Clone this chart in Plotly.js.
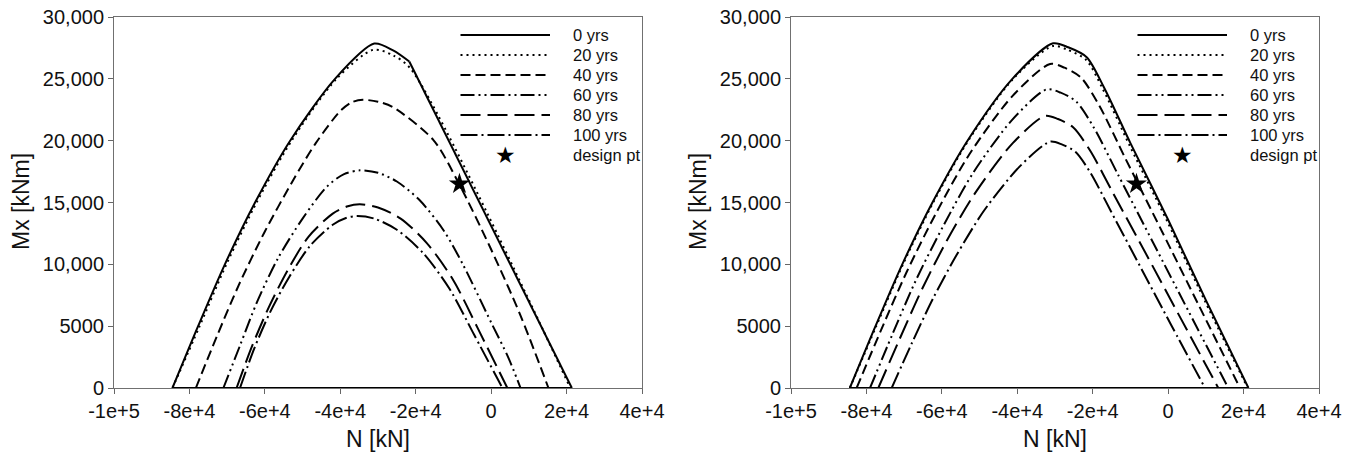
<!DOCTYPE html>
<html>
<head>
<meta charset="utf-8">
<script src="https://cdn.plot.ly/plotly-3.0.1.min.js"></script>
<style>html,body{margin:0;padding:0;background:#fff;}#chart{width:1354px;height:458px;}</style>
</head>
<body>
<div id="chart"></div>
<script>
// ---------- DATA ----------
const seriesNames = ['0 yrs', '20 yrs', '40 yrs', '60 yrs', '80 yrs', '100 yrs'];
const designName = 'design pt';

const xTickVals = [-100000, -80000, -60000, -40000, -20000, 0, 20000, 40000];
const xTickText = ['-1e+5', '-8e+4', '-6e+4', '-4e+4', '-2e+4', '0', '2e+4', '4e+4'];
const yTickVals = [0, 5000, 10000, 15000, 20000, 25000, 30000];
const yTickText = ['0', '5000', '10,000', '15,000', '20,000', '25,000', '30,000'];

// Left panel (closed outlines: arch, then back along M = 0)
const leftN0 = [-84500, -77700, -70600, -62600, -53300, -41400, -31000, -26000, -21700, 21400, -84500];
const leftM0 = [0, 5000, 10000, 15000, 20000, 25000, 27850, 27300, 26400, 0, 0];
const leftN20 = [-84500, -77300, -70200, -62200, -52900, -41000, -31200, -26000, -21300, 21000, -84500];
const leftM20 = [0, 5000, 10000, 15000, 20000, 25000, 27350, 26900, 25800, 0, 0];
const leftN40 = [-78300, -72700, -66800, -60100, -52500, -46500, -40000, -37000, -34000, -30000, -26000, -15300, -8500, -300, 7600, 15200, -78300];
const leftM40 = [0, 4200, 8400, 12600, 16800, 19800, 22400, 23100, 23300, 23150, 22700, 20050, 16500, 11400, 6000, 0, 0];
const leftN60 = [-71000, -66500, -62000, -56500, -50000, -43500, -39000, -34800, -30000, -25000, -19000, -12500, -7500, 0, 4500, 7800, -71000];
const leftM60 = [0, 3500, 7000, 10500, 13700, 16300, 17300, 17600, 17400, 16700, 15200, 12700, 10000, 5300, 2500, 0, 0];
const leftN80 = [-67500, -63500, -59000, -54000, -48500, -42000, -38000, -34800, -30000, -24000, -17000, -10000, -3500, 4300, -67500];
const leftM80 = [0, 3300, 6500, 9500, 12200, 14100, 14700, 14850, 14600, 13700, 11700, 8700, 4800, 0, 0];
const leftN100 = [-66600, -62800, -58500, -53500, -48000, -42000, -38500, -35600, -31000, -25000, -18000, -11000, -4500, 3000, -66600];
const leftM100 = [0, 3200, 6200, 9000, 11500, 13200, 13750, 13900, 13700, 12800, 10900, 8000, 4300, 0, 0];

// Right panel
const rightN0 = [-84400, -77600, -70500, -62500, -53200, -41300, -30500, -26500, -21600, -17000, -10000, 0, 10000, 21300, -84400];
const rightM0 = [0, 5000, 10000, 15000, 20000, 25000, 27870, 27550, 26750, 24300, 19800, 13600, 7100, 0, 0];
const rightN20 = [-84400, -77400, -70300, -62300, -53000, -41100, -30600, -26700, -21800, -17200, -10200, -200, 9800, 21100, -84400];
const rightM20 = [0, 5000, 10000, 15000, 20000, 25000, 27650, 27350, 26550, 24100, 19600, 13450, 7000, 0, 0];
const rightN40 = [-82600, -76100, -69300, -61600, -52700, -41300, -31300, -27500, -23100, -18200, -11400, -1700, 8100, 19050, -82600];
const rightM40 = [0, 4700, 9400, 14100, 18900, 23600, 26200, 25900, 25100, 22800, 18600, 12700, 6700, 0, 0];
const rightN60 = [-79050, -73100, -66900, -59800, -51700, -41300, -32200, -28500, -24350, -19700, -13200, -3900, 5500, 15960, -79050];
const rightM60 = [0, 4350, 8700, 13000, 17400, 21700, 24150, 23880, 23150, 21050, 17200, 11700, 6150, 0, 0];
const rightN80 = [-76850, -71200, -65400, -58700, -51100, -41200, -32650, -29200, -25200, -20700, -14500, -5600, 3300, 13300, -76850];
const rightM80 = [0, 3960, 7900, 11900, 15800, 19800, 22000, 21750, 21080, 19200, 15700, 10700, 5650, 0, 0];
const rightN100 = [-73300, -68000, -62400, -56100, -48800, -39400, -31300, -28200, -24600, -20600, -15100, -7200, 800, 9770, -73300];
const rightM100 = [0, 3600, 7200, 10750, 14350, 17900, 19920, 19700, 19100, 17400, 14250, 9700, 5100, 0, 0];

const designN = [-8400];
const designM = [16500];

// ---------- STYLE ----------
const dashes = ['solid', '2px,4px', '10px,5px', '14px,4px,2px,4px,2px,4px', '20px,7px', '17px,4px,2px,4px'];
const FONT = 'Liberation Sans, Arial, Helvetica, sans-serif';
const W = 1354, H = 458;
// kinkAt: index of a sharp corner after which the outline runs straight (null = smooth throughout)
const panels = [
  {xa: 'x', ya: 'y', left: 114, right: 642, N: [leftN0, leftN20, leftN40, leftN60, leftN80, leftN100], M: [leftM0, leftM20, leftM40, leftM60, leftM80, leftM100], kinkAt: [8, null, null, null, null, null]},
  {xa: 'x2', ya: 'y2', left: 791, right: 1319, N: [rightN0, rightN20, rightN40, rightN60, rightN80, rightN100], M: [rightM0, rightM20, rightM40, rightM60, rightM80, rightM100], kinkAt: [null, null, null, null, null, null]}
];
const topPx = 17, botPx = 388;

const traces = [];
const shapes = [];
const annotations = [];

function addLine(p, name, xs, ys, dash, shape) {
  traces.push({
    type: 'scatter', mode: 'lines', name: name, showlegend: false,
    x: xs, y: ys, xaxis: p.xa, yaxis: p.ya,
    line: {color: '#000', width: 2, dash: dash, shape: shape, smoothing: 0.8},
    hoverinfo: 'skip'
  });
}

panels.forEach((p) => {
  seriesNames.forEach((name, i) => {
    const N = p.N[i], M = p.M[i];
    const n = N.length;
    const k = p.kinkAt[i];
    if (k === null) {
      addLine(p, name, N.slice(0, n - 1), M.slice(0, n - 1), dashes[i], 'spline');
    } else {
      addLine(p, name, N.slice(0, k + 1), M.slice(0, k + 1), dashes[i], 'spline');
      addLine(p, name, N.slice(k, n - 1), M.slice(k, n - 1), dashes[i], 'linear');
    }
    // closing base segment along M = 0
    addLine(p, name, N.slice(n - 2), M.slice(n - 2), dashes[i], 'linear');
  });
  traces.push({
    type: 'scatter', mode: 'markers', name: designName, showlegend: false,
    x: designN, y: designM, xaxis: p.xa, yaxis: p.ya,
    marker: {symbol: 'star', size: 16, color: '#000'}, cliponaxis: false
  });

  // manual legend (axis-domain coordinates)
  const xd = p.xa === 'x' ? 'x domain' : 'x2 domain';
  const yd = p.ya === 'y' ? 'y domain' : 'y2 domain';
  const pw = p.right - p.left, ph = botPx - topPx;
  const lx0 = 346.5 / pw, lx1 = 436 / pw, tx = 456.5 / pw;
  const rowY = r => (botPx - (35 + 20 * r)) / ph;
  seriesNames.forEach((name, i) => {
    shapes.push({type: 'line', xref: xd, yref: yd, x0: lx0, x1: lx1, y0: rowY(i), y1: rowY(i),
      line: {color: '#000', width: 2, dash: dashes[i]}});
    annotations.push({xref: xd, yref: yd, x: tx, y: rowY(i), text: name, showarrow: false,
      xanchor: 'left', yanchor: 'middle', font: {family: FONT, size: 16.5, color: '#111'}});
  });
  annotations.push({xref: xd, yref: yd, x: (lx0 + lx1) / 2, y: rowY(6), text: '★', showarrow: false,
    xanchor: 'center', yanchor: 'middle', font: {family: 'DejaVu Sans', size: 23, color: '#000'}});
  annotations.push({xref: xd, yref: yd, x: tx, y: rowY(6), text: designName, showarrow: false,
    xanchor: 'left', yanchor: 'middle', font: {family: FONT, size: 16.5, color: '#111'}});

  // axis titles
  annotations.push({xref: 'paper', yref: 'paper', x: (p.left - 93) / W, y: 1 - 202 / H, text: 'Mx [kNm]', textangle: -90,
    showarrow: false, xanchor: 'center', yanchor: 'middle', font: {family: FONT, size: 23, color: '#111'}});
  annotations.push({xref: 'paper', yref: 'paper', x: (p.left + p.right) / 2 / W, y: 1 - 439 / H, text: 'N [kN]',
    showarrow: false, xanchor: 'center', yanchor: 'middle', font: {family: FONT, size: 23, color: '#111'}});
});

function xAxis(pl, anchor) {
  return {domain: [pl.left / W, pl.right / W], range: [-100000, 40000], anchor: anchor,
    tickvals: xTickVals, ticktext: xTickText, ticks: 'outside', ticklen: 5, tickcolor: '#666', tickwidth: 1,
    showline: true, linecolor: '#707070', linewidth: 1, mirror: true, showgrid: false, zeroline: false,
    tickfont: {family: FONT, size: 20, color: '#111'}, fixedrange: true};
}
function yAxis(anchor) {
  return {domain: [1 - botPx / H, 1 - topPx / H], range: [0, 30000], anchor: anchor,
    tickvals: yTickVals, ticktext: yTickText, ticks: 'outside', ticklen: 5, tickcolor: '#666', tickwidth: 1,
    showline: true, linecolor: '#707070', linewidth: 1, mirror: true, showgrid: false, zeroline: false,
    tickfont: {family: FONT, size: 20, color: '#111'}, fixedrange: true};
}

const layout = {
  width: W, height: H, margin: {l: 0, r: 0, t: 0, b: 0},
  paper_bgcolor: '#fff', plot_bgcolor: '#fff', showlegend: false,
  xaxis: xAxis(panels[0], 'y'), yaxis: yAxis('x'),
  xaxis2: xAxis(panels[1], 'y2'), yaxis2: yAxis('x2'),
  shapes: shapes, annotations: annotations
};

Plotly.newPlot('chart', traces, layout, {staticPlot: true});
</script>
</body>
</html>
